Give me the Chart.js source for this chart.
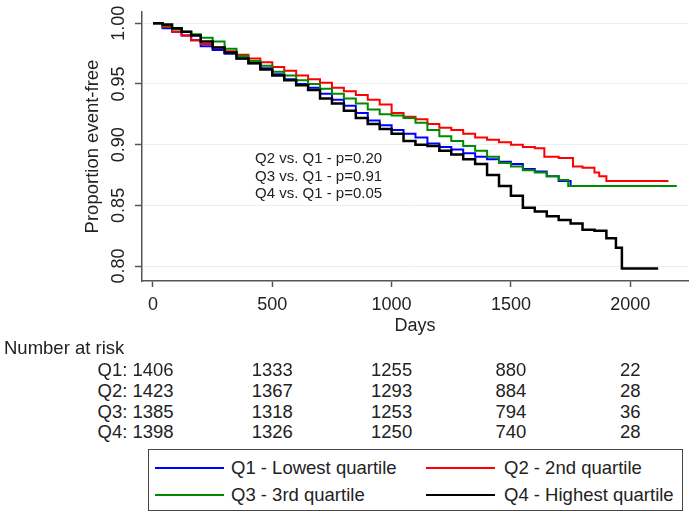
<!DOCTYPE html>
<html>
<head>
<meta charset="utf-8">
<script src="https://cdn.jsdelivr.net/npm/chart.js@4.4.1/dist/chart.umd.min.js"></script>
<style>
    body { margin: 0; background: #fff; font-family: 'Liberation Sans', Arial, sans-serif; color: #222; }
    #wrap { position: relative; width: 696px; height: 518px; overflow: hidden; }
    #km { position: absolute; left: 0; top: 0; }
    .txt { position: absolute; white-space: nowrap; line-height: 1; }
    .risk { font-size: 18.5px; }
    .note { font-size: 15px; }
    #legend { position: absolute; left: 148px; top: 449px; width: 533px; height: 60px; border: 1px solid #444; }
    .legline { position: absolute; height: 2px; width: 69px; }
    .legtxt { position: absolute; font-size: 18.5px; white-space: nowrap; line-height: 1; }
</style>
</head>
<body>
<div id="wrap">
    <canvas id="km" width="696" height="345"></canvas>
</div>
<script>
// Kaplan-Meier estimates (days, proportion event-free)
const q1Days = [0, 40, 80, 120, 160, 200, 250, 300, 350, 400, 450, 500, 550, 600, 650, 700, 750, 800, 850, 900, 950, 1000, 1050, 1100, 1150, 1200, 1250, 1300, 1350, 1400, 1450, 1500, 1550, 1600, 1650, 1700, 1750, 2075];
const q1Surv = [1.000, 0.996, 0.993, 0.990, 0.986, 0.981, 0.978, 0.975, 0.971, 0.967, 0.963, 0.958, 0.954, 0.950, 0.947, 0.942, 0.937, 0.932, 0.926, 0.920, 0.916, 0.912, 0.909, 0.906, 0.901, 0.898, 0.896, 0.893, 0.890, 0.888, 0.886, 0.884, 0.880, 0.878, 0.874, 0.870, 0.866, 0.866];

const q2Days = [0, 40, 80, 120, 160, 200, 250, 300, 350, 400, 450, 500, 550, 600, 650, 700, 750, 800, 850, 900, 950, 1000, 1050, 1100, 1150, 1200, 1250, 1300, 1350, 1400, 1450, 1500, 1550, 1600, 1640, 1700, 1760, 1800, 1850, 1870, 1900, 2160];
const q2Surv = [1.000, 0.997, 0.993, 0.990, 0.986, 0.983, 0.980, 0.977, 0.974, 0.971, 0.968, 0.964, 0.961, 0.957, 0.954, 0.951, 0.947, 0.944, 0.941, 0.937, 0.933, 0.926, 0.923, 0.921, 0.917, 0.914, 0.912, 0.909, 0.906, 0.904, 0.902, 0.900, 0.898, 0.897, 0.890, 0.889, 0.882, 0.881, 0.877, 0.874, 0.870, 0.870];

const q3Days = [0, 40, 80, 120, 160, 200, 250, 300, 350, 400, 450, 500, 550, 600, 650, 700, 750, 800, 850, 900, 950, 1000, 1050, 1100, 1150, 1200, 1250, 1300, 1350, 1400, 1450, 1500, 1550, 1600, 1650, 1700, 1740, 2195];
const q3Surv = [1.000, 0.998, 0.995, 0.993, 0.991, 0.988, 0.985, 0.979, 0.973, 0.969, 0.965, 0.960, 0.957, 0.953, 0.950, 0.946, 0.942, 0.938, 0.934, 0.929, 0.925, 0.924, 0.922, 0.918, 0.912, 0.907, 0.903, 0.899, 0.895, 0.890, 0.885, 0.882, 0.879, 0.877, 0.874, 0.871, 0.866, 0.866];

const q4Days = [0, 40, 80, 120, 160, 200, 250, 300, 350, 400, 450, 500, 550, 600, 650, 700, 750, 800, 850, 900, 950, 1000, 1050, 1100, 1150, 1200, 1250, 1300, 1350, 1400, 1450, 1500, 1550, 1600, 1650, 1700, 1750, 1800, 1850, 1900, 1940, 1965, 2117];
const q4Surv = [1.000, 0.999, 0.996, 0.993, 0.990, 0.985, 0.980, 0.976, 0.971, 0.967, 0.962, 0.957, 0.953, 0.949, 0.945, 0.938, 0.934, 0.928, 0.922, 0.917, 0.913, 0.909, 0.903, 0.900, 0.899, 0.895, 0.892, 0.888, 0.884, 0.875, 0.866, 0.858, 0.848, 0.845, 0.841, 0.838, 0.835, 0.830, 0.829, 0.823, 0.815, 0.798, 0.798];

const seriesLabels = ['Q1 - Lowest quartile', 'Q2 - 2nd quartile', 'Q3 - 3rd quartile', 'Q4 - Highest quartile'];
const seriesColors = ['#0000ff', '#ff0000', '#008a00', '#000000'];

const xTicks = [0, 500, 1000, 1500, 2000];
const yTicks = [0.80, 0.85, 0.90, 0.95, 1.00];

// number at risk table
const riskDays = [0, 500, 1000, 1500, 2000];
const riskLabels = ['Q1', 'Q2', 'Q3', 'Q4'];
const q1Risk = [1406, 1333, 1255, 880, 22];
const q2Risk = [1423, 1367, 1293, 884, 28];
const q3Risk = [1385, 1318, 1253, 794, 36];
const q4Risk = [1398, 1326, 1250, 740, 28];

const pNotes = ['Q2 vs. Q1 - p=0.20', 'Q3 vs. Q1 - p=0.91', 'Q4 vs. Q1 - p=0.05'];

function toPoints(days, surv) {
    return days.map((d, i) => ({ x: d, y: surv[i] }));
}

const allDays = [q1Days, q2Days, q3Days, q4Days];
const allSurv = [q1Surv, q2Surv, q3Surv, q4Surv];
const drawOrder = [3, 2, 1, 0]; // black on top

const datasets = seriesLabels.map((label, i) => ({
    label: label,
    data: toPoints(allDays[i], allSurv[i]),
    borderColor: seriesColors[i],
    borderWidth: i === 3 ? 2.5 : 2,
    stepped: 'before',
    pointRadius: 0,
    fill: false,
    order: drawOrder[i]
}));

const font = "'Liberation Sans', Arial, sans-serif";

const config = {
    type: 'line',
    data: { datasets: datasets },
    options: {
        responsive: false,
        animation: false,
        layout: { padding: { top: 12, right: 8, left: 0, bottom: 0 } },
        plugins: {
            legend: { display: false },
            tooltip: { enabled: false }
        },
        scales: {
            x: {
                type: 'linear',
                min: -46,
                max: 2242,
                afterBuildTicks: scale => { scale.ticks = xTicks.map(v => ({ value: v })); },
                afterFit: scale => { scale.height = 64; },
                grid: { drawOnChartArea: false, drawTicks: true, tickLength: 6, tickColor: '#555', tickWidth: 1.5 },
                border: { color: '#555', width: 1.5 },
                ticks: {
                    color: '#222', padding: 7, maxRotation: 0,
                    font: { family: font, size: 18 },
                    callback: v => String(v)
                },
                title: { display: true, text: 'Days', color: '#222', padding: { top: 0, bottom: 8 }, font: { family: font, size: 18 } }
            },
            y: {
                type: 'linear',
                min: 0.7877,
                max: 1.0093,
                afterBuildTicks: scale => { scale.ticks = yTicks.map(v => ({ value: v })); },
                afterFit: scale => { scale.width = 142; },
                grid: { color: '#e9eef4', lineWidth: 1, tickLength: 7, tickColor: '#555', tickWidth: 1.5 },
                border: { color: '#555', width: 1.5 },
                ticks: {
                    color: '#222', padding: -2, minRotation: 90, maxRotation: 90, crossAlign: 'center',
                    font: { family: font, size: 18 },
                    callback: v => v.toFixed(2)
                },
                title: { display: true, text: 'Proportion event-free', color: '#222', padding: { top: 82, bottom: 0 }, font: { family: font, size: 18.5 } }
            }
        }
    }
};

const kmChart = new Chart(document.getElementById('km'), config);

const wrap = document.getElementById('wrap');

function addText(text, cls, left, top, align) {
    const el = document.createElement('div');
    el.className = 'txt ' + cls;
    el.textContent = text;
    el.style.left = left + 'px';
    el.style.top = top + 'px';
    if (align === 'center') el.style.transform = 'translate(-50%, -50%)';
    else if (align === 'right') el.style.transform = 'translate(-100%, -50%)';
    else el.style.transform = 'translate(0, -50%)';
    wrap.appendChild(el);
    return el;
}

// p-value annotation
pNotes.forEach((t, i) => addText(t, 'note', 255, 157 + i * 17.7, 'left'));

// number at risk, columns placed under the x ticks
const xScale = kmChart.scales.x;
const allRisk = [q1Risk, q2Risk, q3Risk, q4Risk];
addText('Number at risk', 'risk', 4, 348, 'left');
allRisk.forEach((row, r) => {
    const y = 370 + r * 20.8;
    row.forEach((n, c) => {
        const px = xScale.getPixelForValue(riskDays[c]);
        const el = addText(String(n), 'risk', px, y, 'center');
        if (c === 0) {
            const w = el.getBoundingClientRect().width;
            addText(riskLabels[r] + ':', 'risk', px - w / 2 - 5, y, 'right');
        }
    });
});

// legend box
const legend = document.createElement('div');
legend.id = 'legend';
wrap.appendChild(legend);
seriesLabels.forEach((label, i) => {
    const col = i % 2, row = Math.floor(i / 2);
    const line = document.createElement('div');
    line.className = 'legline';
    line.style.background = seriesColors[i];
    line.style.left = (col === 0 ? 6 : 277) + 'px';
    line.style.top = (17 + row * 27) + 'px';
    legend.appendChild(line);
    const txt = document.createElement('div');
    txt.className = 'legtxt';
    txt.textContent = label;
    txt.style.left = (col === 0 ? 82 : 355) + 'px';
    txt.style.top = (18 + row * 27) + 'px';
    txt.style.transform = 'translate(0, -50%)';
    legend.appendChild(txt);
});
</script>
</body>
</html>
